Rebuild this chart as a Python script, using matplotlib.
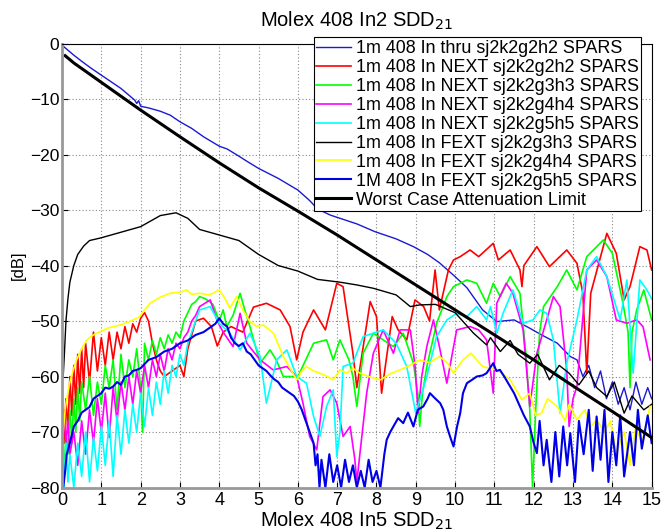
import matplotlib
matplotlib.use("Agg")
import matplotlib.pyplot as plt

plt.rcParams['font.family'] = ['Liberation Sans', 'DejaVu Sans']

# ---- data (frequency in GHz, level in dB) ----
f_thru = [0.0, 0.1, 0.3, 0.5, 0.75, 1.0, 1.25, 1.5, 1.7, 1.85, 1.9, 1.95, 2.0, 2.2, 2.5, 2.75, 3.0,
          3.3, 3.6, 4.0, 4.2, 4.5, 4.7, 5.0, 5.5, 6.0, 6.3, 6.5, 6.82, 7.5, 7.96, 8.5, 8.94, 9.3,
          9.6, 10.0, 10.3, 10.7, 11.06, 11.5, 11.9, 12.2, 12.6, 12.93, 13.1, 13.25, 13.4, 13.55,
          13.7, 13.85, 14.0, 14.15, 14.3, 14.45, 14.6, 14.75, 14.9, 15.0]
db_thru = [-0.3, -0.9, -2.1, -3.2, -4.5, -5.7, -6.9, -8.1, -9.3, -10.2, -10.8, -10.3, -11.3, -11.6,
           -12.2, -12.9, -14.1, -15.3, -16.8, -18.5, -19.0, -20.3, -21.2, -22.5, -24.3, -26.4,
           -28.3, -29.8, -30.9, -32.5, -33.9, -35.2, -36.6, -38.0, -39.5, -42.0, -44.0, -48.0,
           -50.1, -49.8, -51.3, -52.5, -54.0, -56.4, -57.0, -60.0, -58.0, -62.0, -59.0, -64.0,
           -61.0, -65.0, -62.0, -66.0, -61.0, -65.0, -62.0, -64.0]

f_next22 = [0.05, 0.1, 0.15, 0.2, 0.25, 0.3, 0.35, 0.4, 0.45, 0.5, 0.55, 0.6, 0.7, 0.8, 0.9, 1.0,
            1.1, 1.2, 1.3, 1.4, 1.5, 1.6, 1.7, 1.8, 1.9, 2.0, 2.1, 2.2, 2.3, 2.4, 2.5, 2.6, 2.8,
            3.0, 3.1, 3.2, 3.4, 3.6, 3.8, 3.95, 4.1, 4.3, 4.6, 4.87, 5.2, 5.55, 5.8, 5.97, 6.13,
            6.4, 6.7, 6.99, 7.15, 7.4, 7.5, 7.84, 8.0, 8.13, 8.4, 8.55, 8.77, 8.98, 9.2, 9.35,
            9.49, 9.6, 9.83, 9.96, 10.13, 10.38, 10.6, 10.97, 11.1, 11.4, 11.65, 11.7, 11.75,
            12.08, 12.4, 12.84, 13.1, 13.25, 13.35, 13.45, 13.86, 14.1, 14.3, 14.45, 14.7,
            14.88, 15.0]
db_next22 = [-72, -64, -70, -60, -67, -58, -65, -56, -63, -55, -62, -54, -61, -52, -59, -53, -58,
             -52, -57, -52, -55, -51, -54, -50.5, -52, -49.5, -48.5, -50, -54, -57, -59, -60,
             -59, -58, -60, -55, -50, -49.5, -51, -54.5, -52, -51, -52, -47.5, -46.8, -48, -51,
             -57, -52, -48, -51.6, -43.2, -43.8, -55.8, -62, -46.5, -49.2, -63, -49.2, -51.6,
             -53.4, -46.2, -47.4, -50, -40.8, -48, -40.8, -39, -38.4, -37.2, -38.4, -36, -39,
             -37.2, -40.8, -43.8, -40, -36.6, -40.2, -37.2, -39.6, -45, -59.4, -45, -34.2,
             -37.8, -46.2, -43.8, -36.6, -37.2, -40.8]

f_next33 = [0.05, 0.1, 0.15, 0.2, 0.25, 0.3, 0.35, 0.4, 0.45, 0.5, 0.6, 0.7, 0.8, 0.9, 1.0, 1.1,
            1.2, 1.3, 1.4, 1.5, 1.6, 1.7, 1.8, 1.9, 2.0, 2.05, 2.1, 2.2, 2.3, 2.4, 2.5, 2.6, 2.7,
            2.8, 2.9, 3.0, 3.1, 3.2, 3.3, 3.4, 3.5, 3.65, 3.84, 4.0, 4.1, 4.19, 4.35, 4.53, 4.65,
            4.78, 5.04, 5.29, 5.45, 5.63, 6.0, 6.2, 6.4, 6.73, 6.9, 7.07, 7.3, 7.4, 7.5, 7.66,
            7.92, 8.17, 8.43, 8.68, 8.94, 9.05, 9.1, 9.17, 9.28, 9.53, 9.79, 9.96, 10.3, 10.55,
            10.8, 10.97, 11.15, 11.4, 11.65, 11.8, 11.9, 11.97, 12.05, 12.15, 12.25, 12.6, 12.84,
            13.1, 13.35, 13.77, 14.0, 14.27, 14.4, 14.45, 14.5, 14.62, 14.8, 15.0]
db_next33 = [-78, -70, -74, -66, -72, -64, -70, -62, -68, -61, -66, -60, -67, -61, -65, -58, -62,
             -57, -66, -56, -62, -57, -60, -55, -62, -70, -54, -57, -53.5, -56, -53, -55, -52.5,
             -54, -52, -53, -50, -48.5, -47, -46.5, -45.6, -46, -47, -50, -48, -51, -49, -45,
             -48, -51, -57.6, -55.2, -57, -60, -60, -57, -54, -53.4, -57, -53.4, -57, -60, -65.4,
             -55.8, -52.2, -53.4, -54.6, -52.2, -57.6, -63, -69, -63, -58.2, -50.4, -45.6, -43.8,
             -42.6, -43.2, -46.8, -43.2, -45.6, -42, -45, -55.8, -66, -80, -66, -52, -47.4,
             -43.8, -40.8, -44.4, -38.4, -35.4, -37.8, -46.8, -52, -62, -52, -48, -44.4, -49.8]

f_next44 = [0.05, 0.1, 0.15, 0.2, 0.3, 0.4, 0.5, 0.6, 0.7, 0.8, 0.9, 1.0, 1.1, 1.2, 1.3, 1.4, 1.5,
            1.6, 1.7, 1.8, 1.9, 2.0, 2.1, 2.2, 2.3, 2.4, 2.5, 2.6, 2.7, 2.8, 2.9, 3.0, 3.1, 3.2,
            3.3, 3.4, 3.5, 3.77, 3.95, 4.1, 4.35, 4.53, 4.7, 5.04, 5.37, 5.72, 5.97, 6.13, 6.3,
            6.48, 6.64, 6.82, 6.99, 7.15, 7.33, 7.45, 7.5, 7.58, 7.75, 7.92, 8.17, 8.43, 8.6,
            8.86, 8.98, 9.06, 9.15, 9.28, 9.45, 9.6, 9.79, 10.04, 10.38, 10.6, 10.8, 10.97,
            11.06, 11.3, 11.47, 11.73, 11.9, 12.08, 12.33, 12.5, 12.67, 12.84, 12.9, 13.0, 13.1,
            13.35, 13.6, 13.86, 14.1, 14.37, 14.62, 14.78, 14.96]
db_next44 = [-66, -72, -68, -74, -70, -76, -68, -74, -66, -72, -64, -70, -63, -71, -62, -68, -61,
             -66, -60, -65, -59, -63, -58, -62, -57, -60, -56, -59, -55, -57, -54, -55, -53, -52,
             -50, -49, -47.4, -46.2, -50, -52, -54.6, -48.6, -54, -57, -58.8, -58.2, -60, -64.8,
             -70.8, -73.2, -63.6, -62.4, -64.8, -70.8, -69, -75, -79, -73.8, -63, -55.8, -51.6,
             -55.8, -51.6, -51.6, -58, -66.6, -60, -54.6, -49.8, -54.6, -61.2, -51.6, -51,
             -51.6, -53.4, -63, -46.8, -43.2, -45, -51.6, -65.4, -55.8, -49.8, -45.6, -47.4,
             -58.8, -69, -64, -61.8, -40.8, -39, -42, -49.8, -50.4, -49.8, -51, -57]

f_next55 = [0.05, 0.1, 0.15, 0.2, 0.3, 0.4, 0.5, 0.6, 0.7, 0.8, 0.9, 1.0, 1.1, 1.2, 1.3, 1.4, 1.5,
            1.6, 1.7, 1.8, 1.9, 2.0, 2.1, 2.2, 2.3, 2.4, 2.5, 2.6, 2.7, 2.8, 2.9, 3.0, 3.1, 3.2,
            3.3, 3.4, 3.5, 3.77, 4.0, 4.27, 4.53, 4.78, 5.04, 5.2, 5.46, 5.72, 5.97, 6.22, 6.4,
            6.56, 6.73, 6.9, 6.99, 7.07, 7.15, 7.4, 7.66, 7.92, 8.17, 8.5, 8.77, 9.0, 9.28, 9.53,
            9.79, 10.04, 10.3, 10.55, 10.8, 10.9, 11.06, 11.22, 11.47, 11.73, 11.98, 12.16,
            12.33, 12.5, 12.67, 12.84, 13.1, 13.35, 13.6, 13.86, 14.2, 14.37, 14.53, 14.7,
            14.88, 15.0]
db_next55 = [-80, -72, -79, -74, -80, -72, -78, -70, -79, -71, -77, -69, -76, -68, -78, -67, -74,
             -66, -72, -65, -70, -63, -69, -62, -67, -61, -65, -59, -63, -58, -60, -56, -58, -54,
             -52, -50, -48, -47.4, -50.4, -52.2, -55.2, -52.2, -56.4, -64.8, -57, -55.2, -60,
             -61.2, -67.2, -70.8, -65.4, -62.4, -74.4, -70, -58.2, -57.6, -52.8, -52.2, -51.6,
             -54, -58.2, -66.6, -60, -52.8, -49.8, -48.6, -49.2, -47.4, -49.8, -47.4, -52.2,
             -48.6, -44.4, -50.4, -49.8, -48, -48.6, -53.4, -66.6, -57.6, -49.8, -40.8, -38.4,
             -42, -49.8, -42.6, -59.4, -42.6, -44.4, -46]

f_fext33 = [0.03, 0.06, 0.1, 0.15, 0.2, 0.3, 0.4, 0.55, 0.7, 1.0, 1.5, 2.0, 2.5, 2.9, 3.2, 3.5,
            4.0, 4.5, 5.0, 5.5, 6.0, 6.5, 7.07, 7.5, 7.92, 8.5, 8.86, 9.1, 9.5, 10.0, 10.47,
            10.8, 10.9, 11.15, 11.4, 11.6, 11.9, 12.1, 12.4, 12.65, 12.9, 13.15, 13.4, 13.6,
            13.86, 14.05, 14.3, 14.5, 14.8, 15.0]
db_fext33 = [-60, -56, -50, -46, -43, -40, -38, -36.5, -35.5, -35, -34, -33, -31, -30.5, -31.5,
             -33.5, -34.5, -35.5, -38, -40, -41, -42.5, -43, -43.5, -44.1, -45.3, -47.4, -47.1,
             -47, -48.5, -52.2, -54.3, -53, -55.5, -53.5, -56, -57.6, -56, -60.6, -58, -59.4,
             -61.5, -59, -62, -63.6, -61, -66.6, -63.5, -66, -65]

f_fext44 = [0.03, 0.08, 0.12, 0.2, 0.3, 0.37, 0.5, 0.63, 0.8, 0.97, 1.2, 1.48, 1.75, 1.98, 2.1,
            2.24, 2.5, 2.75, 3.0, 3.17, 3.3, 3.5, 3.75, 4.0, 4.15, 4.27, 4.44, 4.6, 4.78, 4.95,
            5.12, 5.38, 5.63, 5.8, 5.97, 6.1, 6.22, 6.4, 6.56, 6.75, 6.9, 7.07, 7.24, 7.4, 7.58,
            7.8, 8.1, 8.35, 8.6, 8.85, 9.1, 9.35, 9.6, 9.8, 9.96, 10.2, 10.4, 10.55, 10.7, 11.06,
            11.4, 11.7, 11.9, 12.05, 12.2, 12.35, 12.6, 12.8, 12.9, 13.1, 13.3, 13.45, 13.6,
            13.8, 13.95, 14.1, 14.3, 14.45, 14.6, 14.75, 14.96]
db_fext44 = [-70, -66, -64, -61, -58.5, -57, -55, -53.4, -52.5, -51.9, -51.2, -50.7, -50, -49.2,
             -48, -46.8, -45.7, -45, -44.8, -44.4, -45.2, -45, -45.3, -44.4, -46, -47.7, -45.6,
             -48, -50.1, -51, -50.7, -52.2, -56.4, -58.5, -60.6, -59, -58.2, -59, -59.4, -60,
             -60.6, -58.8, -59.4, -58.5, -59.4, -60, -60.6, -59.5, -58.8, -58, -57, -57.5,
             -56.4, -57.5, -59.4, -57, -55.8, -57, -58.2, -58.8, -60.6, -64.2, -63, -67, -66.6,
             -64, -65.4, -68, -65, -67.8, -66, -69, -67.8, -70, -68, -73.8, -70, -76, -69, -72,
             -65.4]

f_fext55 = [0.03, 0.08, 0.12, 0.2, 0.3, 0.4, 0.5, 0.6, 0.7, 0.8, 0.9, 1.0, 1.1, 1.2, 1.3, 1.4,
            1.5, 1.6, 1.7, 1.8, 1.9, 2.0, 2.2, 2.4, 2.6, 2.8, 3.0, 3.2, 3.4, 3.6, 3.8, 3.9, 4.0,
            4.1, 4.2, 4.3, 4.4, 4.5, 4.6, 4.7, 4.8, 4.9, 5.0, 5.1, 5.2, 5.3, 5.4, 5.5, 5.6, 5.7,
            5.8, 5.9, 6.0, 6.1, 6.2, 6.3, 6.4, 6.45, 6.5, 6.55, 6.6, 6.7, 6.8, 6.9, 7.0, 7.1,
            7.2, 7.3, 7.4, 7.5, 7.6, 7.7, 7.8, 7.9, 8.0, 8.1, 8.2, 8.26, 8.35, 8.43, 8.55, 8.68,
            8.8, 8.94, 9.05, 9.19, 9.3, 9.36, 9.5, 9.62, 9.7, 9.79, 9.88, 9.96, 10.05, 10.13,
            10.2, 10.3, 10.45, 10.55, 10.7, 10.8, 10.97, 11.05, 11.14, 11.25, 11.4, 11.5, 11.65,
            11.75, 11.9, 12.0, 12.08, 12.15, 12.25, 12.33, 12.45, 12.55, 12.65, 12.75, 12.85,
            12.93, 13.05, 13.15, 13.27, 13.4, 13.5, 13.6, 13.7, 13.8, 13.9, 14.0, 14.1, 14.2,
            14.3, 14.45, 14.55, 14.65, 14.75, 14.9, 15.0]
db_fext55 = [-80, -77, -74, -72, -69, -68, -66.5, -66, -65.5, -64, -63.5, -63, -62, -62.2, -61.8,
             -61, -61.5, -60, -59.8, -59, -58.8, -58.5, -57, -56.5, -55.5, -55, -54, -53.5,
             -52.5, -52, -51, -50.5, -49.5, -50.5, -51, -53, -54, -54.5, -54, -55.5, -56, -57,
             -58, -58.5, -59, -59.8, -60.5, -61, -62, -62.5, -63, -63.5, -64.5, -66, -68, -70,
             -72, -76, -74, -80, -75, -80, -74, -79, -76, -80, -75, -79, -76, -80, -77, -80,
             -75, -79, -77, -80, -74, -71.4, -70, -69, -67.5, -68.4, -66.5, -69, -66, -65.4,
             -64, -63, -64, -64.8, -66, -69, -71, -72.6, -69, -66.6, -63, -61.2, -60.5, -60,
             -59.8, -59.4, -57.6, -59, -58.8, -60, -61.8, -63, -65.4, -67, -69, -72, -73.8, -68,
             -76, -71.4, -79, -70, -78, -69, -76, -70.2, -79, -68, -74, -66, -77, -67.2, -75,
             -66, -79, -70, -76, -67, -78, -70, -76, -66, -73, -67, -72]

f_limit = [0.08, 0.3, 0.5, 1.0, 2.0, 3.0, 4.0, 5.0, 6.0, 7.0, 8.0, 9.0, 10.0, 11.0, 12.0, 13.0,
           14.0, 15.0]
db_limit = [-2.2, -3.5, -4.5, -7.0, -12.0, -16.8, -21.5, -26.0, -30.2, -34.5, -39.0, -43.5,
            -48.0, -52.5, -57.0, -61.7, -66.3, -71.0]

series = [
    (f_thru, db_thru, '#1a1ad2', 1.0, '1m 408 In thru sj2k2g2h2 SPARS'),
    (f_next22, db_next22, '#ff0000', 1.2, '1m 408 In NEXT sj2k2g2h2 SPARS'),
    (f_next33, db_next33, '#00ff00', 1.2, '1m 408 In NEXT sj2k2g3h3 SPARS'),
    (f_next44, db_next44, '#ff00ff', 1.2, '1m 408 In NEXT sj2k2g4h4 SPARS'),
    (f_next55, db_next55, '#00ffff', 1.2, '1m 408 In NEXT sj2k2g5h5 SPARS'),
    (f_fext33, db_fext33, '#000000', 1.0, '1m 408 In FEXT sj2k2g3h3 SPARS'),
    (f_fext44, db_fext44, '#ffff00', 1.2, '1m 408 In FEXT sj2k2g4h4 SPARS'),
    (f_fext55, db_fext55, '#0000e6', 1.5, '1M 408 In FEXT sj2k2g5h5 SPARS'),
    (f_limit, db_limit, '#000000', 2.2, 'Worst Case Attenuation Limit'),
]

fig = plt.figure(figsize=(6.64, 5.32), dpi=100)
ax = fig.add_axes([0.0934, 0.0836, 0.888, 0.8346])

for f, db, col, lw, lab in series:
    ax.plot(f, db, color=col, linewidth=lw, label=lab)

ax.set_xlim(0, 15)
ax.set_ylim(-80, 0)
ax.set_xticks(range(0, 16))
ax.set_yticks(range(-80, 1, 10))
ax.grid(True, color='#888888', linestyle=(0, (1, 2)), linewidth=0.8)
ax.tick_params(direction='in', labelsize=13, length=4, pad=3)
ax.tick_params(axis='y', labelsize=12.5, pad=2)
for s in ax.spines.values():
    s.set_linewidth(0.8)
ax.spines['left'].set_color('#999999')
ax.spines['left'].set_linewidth(2)
ax.spines['bottom'].set_color('#999999')
ax.spines['bottom'].set_linewidth(2)

ax.set_title('Molex 408 In2 SDD$_{21}$', fontsize=14.5, pad=12)
ax.set_xlabel('Molex 408 In5 SDD$_{21}$', fontsize=14.5, labelpad=1)
ax.set_ylabel('[dB]', fontsize=12, labelpad=3)

leg = fig.legend(loc='upper right', bbox_to_anchor=(0.966, 0.93), fontsize=12.9,
                 handlelength=1.95, handletextpad=0.25, labelspacing=0.11, borderpad=0.15,
                 borderaxespad=0, fancybox=False, framealpha=1, edgecolor='black')
leg.get_frame().set_linewidth(0.8)

fig.savefig('out.png', dpi=100)
